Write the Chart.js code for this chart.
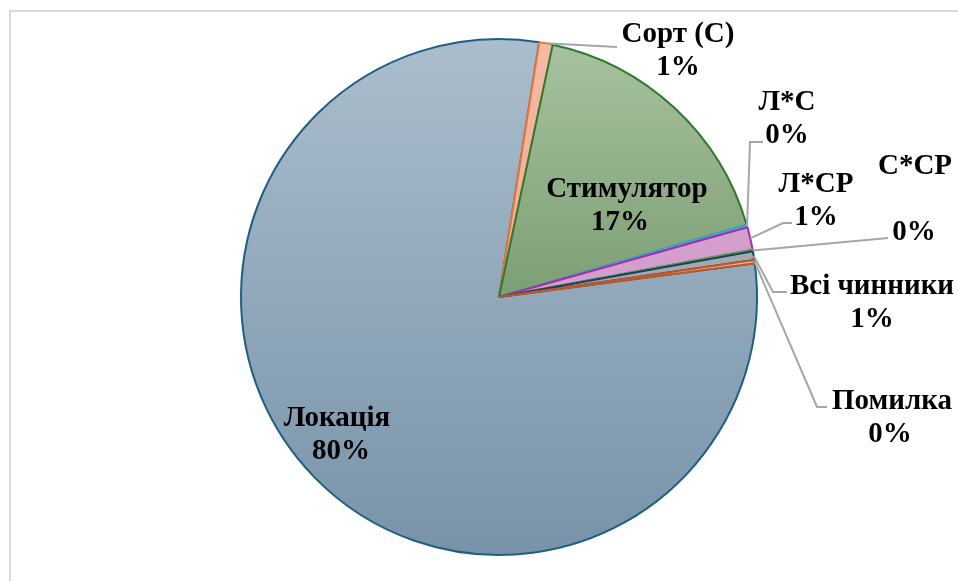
<!DOCTYPE html>
<html><head><meta charset="utf-8">
<script src="https://cdn.jsdelivr.net/npm/chart.js@4.4.0/dist/chart.umd.min.js"></script>
<style>html,body{margin:0;padding:0;background:#fff;}canvas{display:block}</style>
</head><body>
<canvas id="c" width="958" height="581"></canvas>
<script>
// ---- data ----
const categories = ['Локація', 'Сорт (С)', 'Стимулятор', 'Л*С', 'Л*СР', 'С*СР', 'Всі чинники', 'Помилка'];
const values = [79.55, 0.85, 17.15, 0.15, 1.42, 0.1, 0.55, 0.2];

// ---- styles ----
const fillTop    = ['#aabdcc', '#f5baa5', '#a7c2a0', '#a3d5ef', '#d7a4d0', '#bfe0a8', '#a9b0b5', '#efc8ae'];
const fillBottom = ['#7893a9', '#f0ab92', '#7d9f74', '#8cc7e8', '#cf97c8', '#a9d18f', '#98a0a6', '#e6b696'];
const borders    = ['#1d5f80', '#e8743b', '#2f7a2a', '#30a8e0', '#a22ea6', '#4cae3c', '#1c3f5e', '#c0562a'];

// label placement (text centre y, leader path after the slice edge point)
const labelLayout = [
  {x: 337, y: 416, inside: true, px: 341},
  {x: 678, y: 32,  path: [[617, 47]]},
  {x: 627, y: 187, inside: true, px: 620},
  {x: 787, y: 100, path: [[750, 142], [763, 142]]},
  {x: 816, y: 182, path: [[783, 223], [792, 223]]},
  {x: 915, y: 164, py: 230, px: 914, path: [[888, 238]]},
  {x: 872, y: 284, path: [[773, 292], [787, 292]]},
  {x: 892, y: 399, px: 890, path: [[817, 407], [827, 407]]}
];

const total = values.reduce((a, b) => a + b, 0);
const pctText = values.map(v => Math.round(v / total * 100) + '%');

function fillFor(ctx) {
  const i = ctx.dataIndex;
  const chart = ctx.chart;
  const area = chart.chartArea;
  if (!area || i === undefined) return fillTop[i] || '#ccc';
  const top = area.top;
  const bottom = (i === 1 || i === 2) ? (area.top + area.bottom) / 2 : area.bottom;
  const g = chart.ctx.createLinearGradient(0, top, 0, bottom);
  g.addColorStop(0, fillTop[i]);
  g.addColorStop(1, fillBottom[i]);
  return g;
}

const labelPlugin = {
  id: 'labels',
  beforeDraw(chart) {
    const c = chart.ctx;
    c.save();
    c.strokeStyle = '#d9d9d9';
    c.lineWidth = 2;
    c.strokeRect(10, 11, 1000, 1000);
    c.restore();
  },
  afterDatasetsDraw(chart) {
    const c = chart.ctx;
    const meta = chart.getDatasetMeta(0);
    c.save();
    c.font = 'bold 29px "Liberation Serif", "Times New Roman", serif';
    c.textAlign = 'center';
    c.textBaseline = 'alphabetic';
    meta.data.forEach((arc, i) => {
      const L = labelLayout[i];
      if (L.path) {
        const mid = (arc.startAngle + arc.endAngle) / 2;
        const sx = arc.x + Math.cos(mid) * arc.outerRadius;
        const sy = arc.y + Math.sin(mid) * arc.outerRadius;
        c.beginPath();
        c.strokeStyle = '#a6a6a6';
        c.lineWidth = 2;
        c.moveTo(sx, sy);
        L.path.forEach(p => c.lineTo(p[0], p[1]));
        c.stroke();
      }
      c.fillStyle = '#000';
      c.fillText(categories[i], L.x, L.y + 10);
      const py = L.py !== undefined ? L.py : L.y + 33;
      const px = L.px !== undefined ? L.px : L.x;
      c.fillText(pctText[i], px, py + 10);
    });
    c.restore();
  }
};

new Chart(document.getElementById('c'), {
  type: 'pie',
  data: {
    labels: categories,
    datasets: [{
      data: values,
      backgroundColor: fillFor,
      borderColor: borders,
      borderWidth: 2,
      radius: 258,
      hoverOffset: 0
    }]
  },
  options: {
    responsive: false,
    animation: false,
    rotation: 82.5,
    layout: {padding: {left: 241, right: 201, top: 39, bottom: 26}},
    plugins: {legend: {display: false}, tooltip: {enabled: false}}
  },
  plugins: [labelPlugin]
});
</script>
</body></html>
